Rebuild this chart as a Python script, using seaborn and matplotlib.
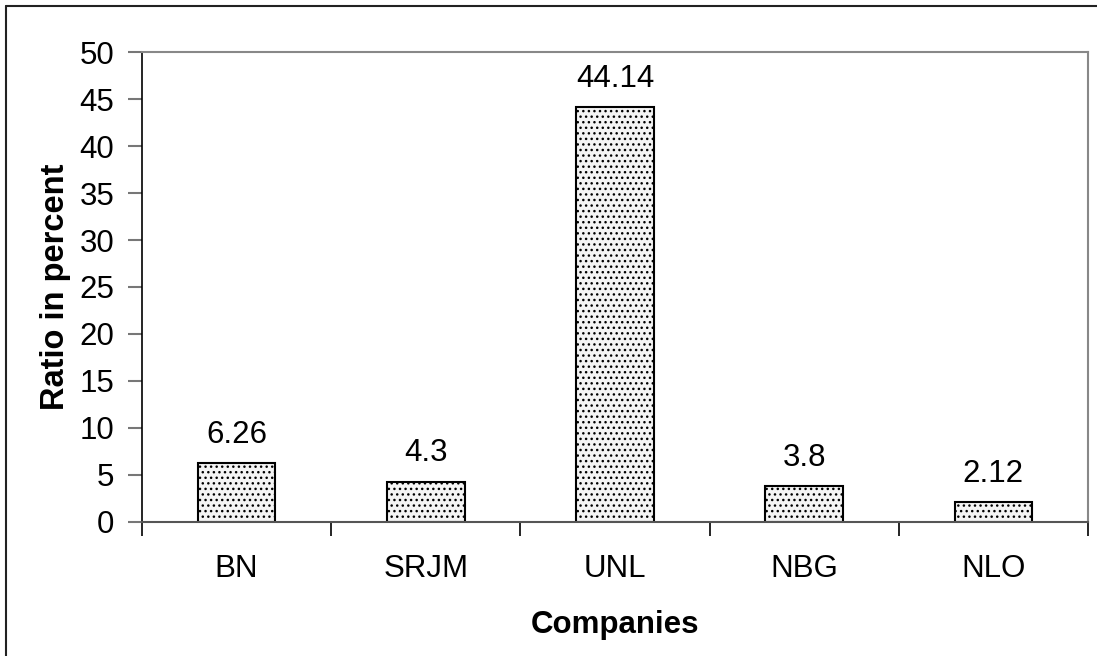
import pandas as pd
import matplotlib
matplotlib.use("Agg")
import matplotlib.pyplot as plt
import seaborn as sns
from matplotlib.lines import Line2D

empresas = ["BN", "SRJM", "UNL", "NBG", "NLO"]
razao = [6.26, 4.3, 44.14, 3.8, 2.12]
rotulos = ["6.26", "4.3", "44.14", "3.8", "2.12"]
ticks_y = [0, 5, 10, 15, 20, 25, 30, 35, 40, 45, 50]

dados = pd.DataFrame({"empresa": empresas, "razao": razao})

sns.set_style("white")
plt.rcParams["font.family"] = ["Liberation Sans", "DejaVu Sans"]
plt.rcParams["text.color"] = "black"
plt.rcParams["axes.labelcolor"] = "black"
plt.rcParams["ytick.color"] = "black"
plt.rcParams["hatch.linewidth"] = 1.0
plt.rcParams["hatch.color"] = "#222222"

fig = plt.figure(figsize=(10.97, 6.56), dpi=100)
ax = fig.add_axes([0.1294, 0.2043, 0.8624, 0.7164])

sns.barplot(data=dados, x="empresa", y="razao", color="#f4f4f4",
            width=0.41, edgecolor="black", linewidth=1.5, ax=ax)
for barra in ax.patches:
    barra.set_hatch("...")
    barra.set_edgecolor("black")

for i, v in enumerate(razao):
    ax.text(i, v + 1.4, rotulos[i], ha="center", va="bottom", fontsize=22.5)

ax.set_ylim(0, 50)
ax.set_xlim(-0.5, 4.5)
ax.set_yticks(ticks_y)
ax.set_yticklabels([str(t) for t in ticks_y], fontsize=22.5)
ax.tick_params(axis="y", length=10, width=1.5, color="#777777", labelcolor="black", pad=10, left=True)
ax.set_xticks([-0.5, 0.5, 1.5, 2.5, 3.5, 4.5])
ax.set_xticklabels([])
ax.tick_params(axis="x", length=10, width=1.2, color="black", bottom=True)
for i, e in enumerate(empresas):
    ax.text(i, -5.0, e, ha="center", va="center", fontsize=22.5)

ax.set_xlabel("Companies", fontsize=22.5, fontweight="bold", labelpad=50)
ax.set_ylabel("Ratio in percent", fontsize=23.5, fontweight="bold", labelpad=6)

for lado in ["top", "right"]:
    ax.spines[lado].set_color("#888888")
    ax.spines[lado].set_linewidth(1.5)
ax.spines["left"].set_color("black")
ax.spines["bottom"].set_color("#555555")
ax.spines["left"].set_linewidth(1.2)
ax.spines["bottom"].set_linewidth(1.5)

# moldura da figura (topo e esquerda)
fig.add_artist(Line2D([6 / 1097, 1], [1 - 6 / 656, 1 - 6 / 656], color="#222222", lw=1.5))
fig.add_artist(Line2D([6 / 1097, 6 / 1097], [0, 1 - 6 / 656], color="#222222", lw=1.5))

fig.savefig("out.png", dpi=100)
